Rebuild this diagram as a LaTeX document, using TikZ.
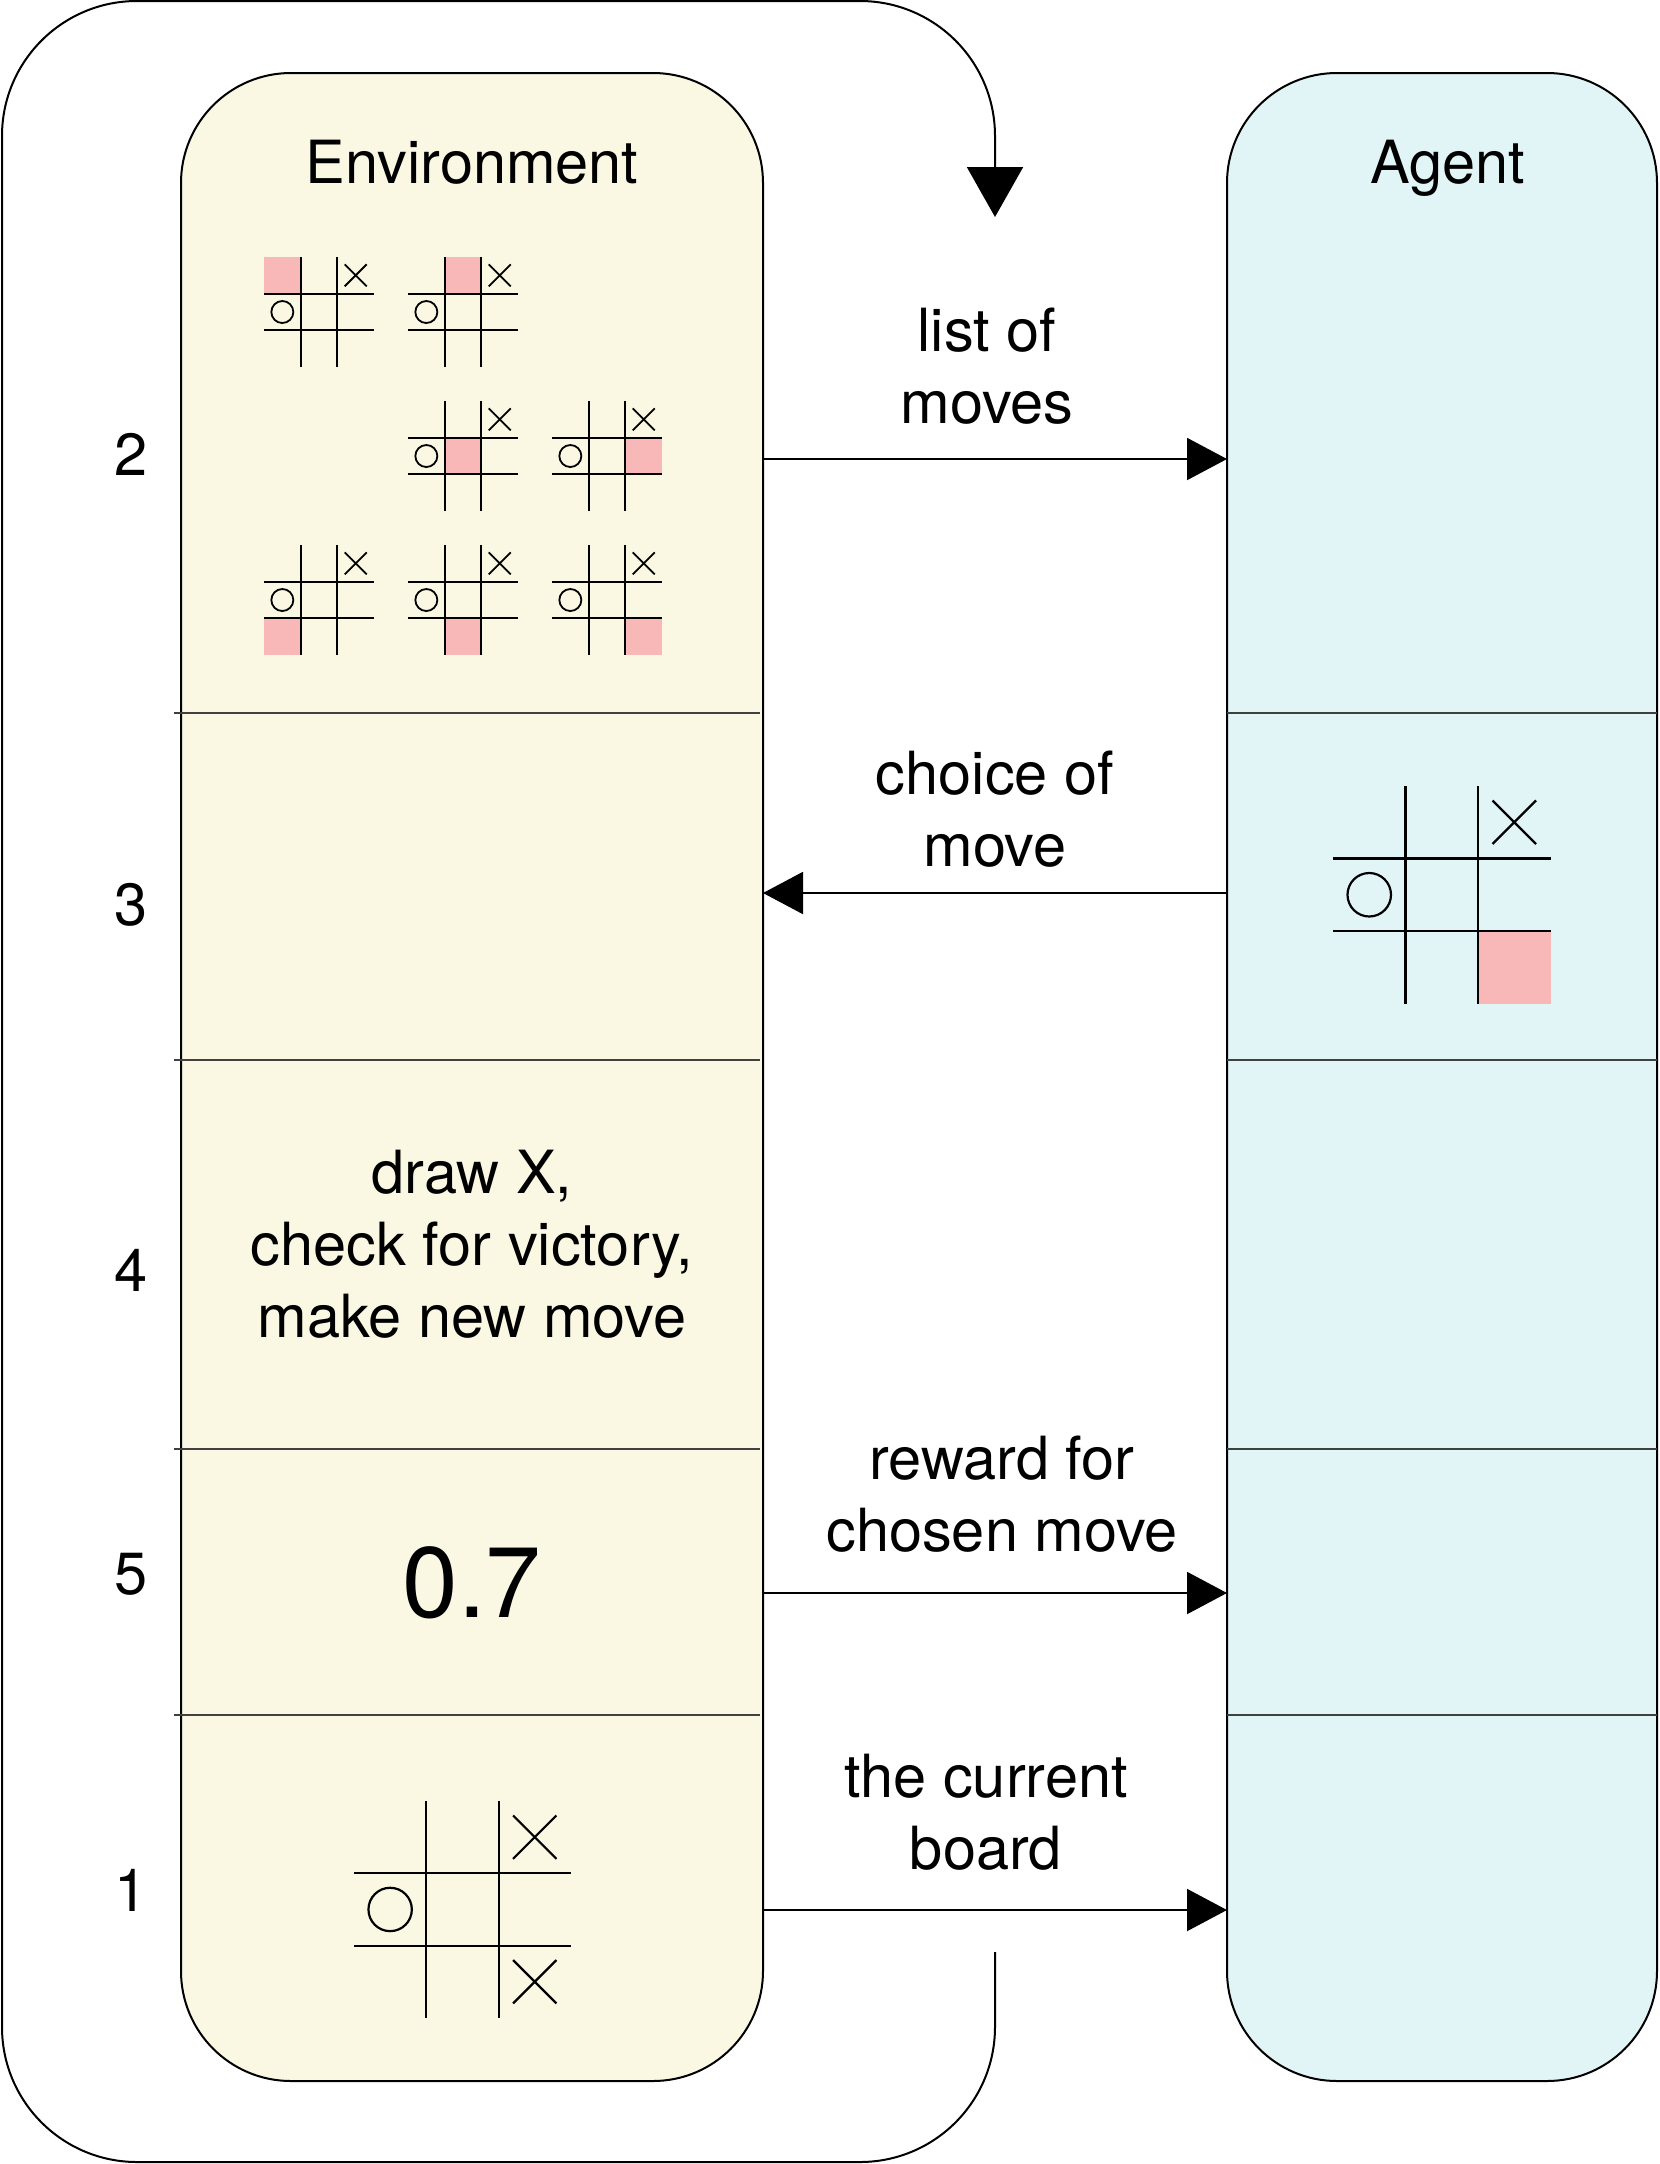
\documentclass[tikz,border=0pt]{standalone}
\usepackage{fontspec}
\setmainfont{TeX Gyre Heros}
\usetikzlibrary{arrows.meta}
\definecolor{envfill}{HTML}{FAF8E3}
\definecolor{agentfill}{HTML}{E1F5F7}
\definecolor{pinkcell}{HTML}{F8B8B8}
\newcommand\tttgrid[3]{%
  \begin{scope}[shift={(#1)},scale=#2,line width=#3]
    \draw (1,0)--(1,3) (2,0)--(2,3) (0,1)--(3,1) (0,2)--(3,2);
    \draw (2.2,0.2)--(2.8,0.8) (2.8,0.2)--(2.2,0.8);
    \draw (0.5,1.5) circle[radius=0.3];
  \end{scope}}
\newcommand\tttpink[3]{%
  \fill[pinkcell,shift={(#1)},scale=#2] (#3) rectangle ++(1,1);}
\begin{document}
\begin{tikzpicture}[x=1pt,y=-1pt,
  every node/.style={font=\fontsize{59.5}{72}\selectfont,inner sep=0pt,outer sep=0pt},
  lanebox/.style={draw,line width=2pt,rounded corners=110pt,minimum width=#1,minimum height=2008pt},
  arr/.style={line width=2pt,-{Triangle[length=40pt,width=42pt]}},
  sepline/.style={line width=1.2pt,black!75},
  lbl/.style={anchor=base,align=center}]
\fill[white] (0,0) rectangle (1660,2164);
\useasboundingbox (0,0) rectangle (1660,2164);

% outer loop
\coordinate (loopstart) at (995,1952);
\coordinate (looptip) at (995,217);
\draw[line width=2pt,rounded corners=135pt,-{Triangle[length=50pt,width=56pt]}]
  (loopstart) -- (995,2162) -- (2,2162) -- (2,1) -- (995,1) -- (looptip);

% lanes
\node[lanebox=582pt,fill=envfill] (env) at (472,1077) {};
\node[lanebox=430pt,fill=agentfill] (agent) at (1442,1077) {};

% separators
\foreach \yy/\nm in {713/s1,1060/s2,1449/s3,1715/s4}{
  \coordinate (\nm) at (0,\yy);
  \draw[sepline] ([xshift=-7pt]env.west |- \nm) -- ([xshift=-3pt]env.east |- \nm);
  \draw[sepline] (agent.west |- \nm) -- (agent.east |- \nm);
}

% titles
\node[lbl] (envtitle) at (472,183) {Environment};
\node[lbl] (agenttitle) at (1448,183) {Agent};

% row numbers
\node[lbl] (n2) at (131,475) {2};
\node[lbl] (n3) at (131,925) {3};
\node[lbl] (n4) at (131,1291) {4};
\node[lbl] (n5) at (131,1594) {5};
\node[lbl] (n1) at (131,1911) {1};

% arrows
\coordinate (y2) at (0,459);
\coordinate (y3) at (0,893);
\coordinate (y5) at (0,1593);
\coordinate (y1) at (0,1910);
\draw[arr] (env.east |- y2) -- (agent.west |- y2);
\draw[arr] (agent.west |- y3) -- (env.east |- y3);
\draw[arr] (env.east |- y5) -- (agent.west |- y5);
\draw[arr] (env.east |- y1) -- (agent.west |- y1);

% arrow labels
\node[lbl] (lab2) at (987,351) {\begin{tabular}[t]{@{}c@{}}list of\\moves\end{tabular}};
\node[lbl] (lab3) at (995,794) {\begin{tabular}[t]{@{}c@{}}choice of\\move\end{tabular}};
\node[lbl] (lab5) at (1002,1479) {\begin{tabular}[t]{@{}c@{}}reward for\\chosen move\end{tabular}};
\node[lbl] (lab1) at (986,1797) {\begin{tabular}[t]{@{}c@{}}the current\\board\end{tabular}};

% environment texts
\node[lbl] (step4) at (472,1193) {\begin{tabular}[t]{@{}c@{}}draw X,\\check for victory,\\make new move\end{tabular}};
\node[lbl,font=\fontsize{100}{110}\selectfont] (reward) at (472,1617) {0.7};

% small boards (list of moves)
\tttpink{264,257}{36.67}{0,0}
\tttpink{408,257}{36.67}{1,0}
\tttpink{408,401}{36.67}{1,1}
\tttpink{552,401}{36.67}{2,1}
\tttpink{264,545}{36.67}{0,2}
\tttpink{408,545}{36.67}{1,2}
\tttpink{552,545}{36.67}{2,2}
\tttgrid{264,257}{36.67}{1.8pt}
\tttgrid{408,257}{36.67}{1.8pt}
\tttgrid{408,401}{36.67}{1.8pt}
\tttgrid{552,401}{36.67}{1.8pt}
\tttgrid{264,545}{36.67}{1.8pt}
\tttgrid{408,545}{36.67}{1.8pt}
\tttgrid{552,545}{36.67}{1.8pt}

% agent's chosen move
\tttpink{1333,786}{72.5}{2,2}
\tttgrid{1333,786}{72.5}{2.2pt}

% current board
\tttgrid{354,1801}{72.3}{2.2pt}
\draw[line width=2.2pt,shift={(354,1801)},scale=72.3] (2.2,2.2)--(2.8,2.8) (2.8,2.2)--(2.2,2.8);
\end{tikzpicture}
\end{document}
